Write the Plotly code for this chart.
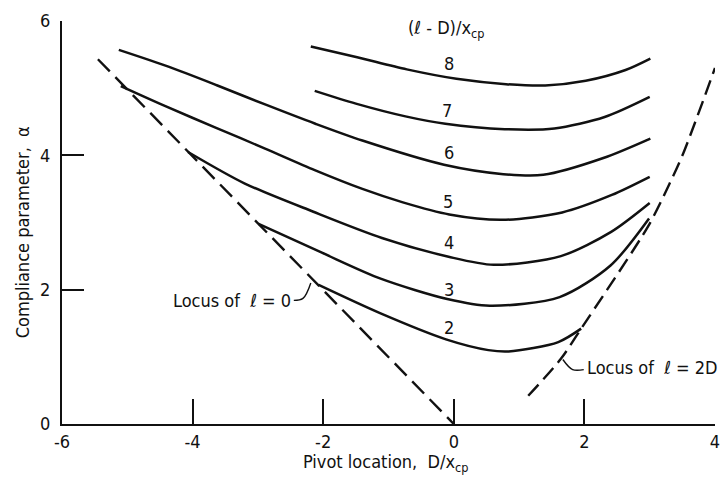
import plotly.graph_objects as go

# Constant-(l - D)/x_cp curves: pivot location D/x_cp vs compliance parameter alpha
d_2 = [-2.07, -1.13, -0.12, 0.53, 0.84, 1.60, 1.95]
a_2 = [2.07, 1.65, 1.26, 1.10, 1.08, 1.22, 1.42]

d_3 = [-2.99, -2.02, -1.11, -0.10, 0.55, 1.62, 2.40, 2.99]
a_3 = [2.98, 2.55, 2.16, 1.86, 1.76, 1.89, 2.36, 3.06]

d_4 = [-4.07, -3.20, -2.15, -1.10, -0.08, 0.61, 1.64, 2.41, 3.0]
a_4 = [4.05, 3.58, 3.16, 2.77, 2.49, 2.37, 2.50, 2.86, 3.29]

d_5 = [-5.10, -4.39, -3.64, -2.89, -2.13, -1.40, -0.78, -0.07, 0.74, 1.66, 2.42, 3.0]
a_5 = [5.03, 4.72, 4.41, 4.10, 3.78, 3.50, 3.30, 3.12, 3.04, 3.15, 3.41, 3.68]

d_6 = [-5.13, -4.37, -3.62, -2.87, -2.12, -1.40, -0.15, 0.76, 1.37, 2.29, 3.01]
a_6 = [5.57, 5.32, 5.04, 4.75, 4.47, 4.22, 3.86, 3.72, 3.71, 3.96, 4.25]

d_7 = [-2.13, -1.50, -0.74, -0.13, 0.78, 1.54, 2.31, 3.0]
a_7 = [4.96, 4.77, 4.58, 4.47, 4.39, 4.40, 4.57, 4.87]

d_8 = [-2.19, -1.48, -0.72, 0.04, 0.80, 1.40, 2.02, 2.63, 3.01]
a_8 = [5.62, 5.46, 5.28, 5.14, 5.06, 5.04, 5.11, 5.27, 5.44]

curve_names = ["2", "3", "4", "5", "6", "7", "8"]
curve_d = [d_2, d_3, d_4, d_5, d_6, d_7, d_8]
curve_a = [a_2, a_3, a_4, a_5, a_6, a_7, a_8]

# Curve label anchor points
label_d = [-0.08, -0.08, -0.08, -0.09, -0.07, -0.10, -0.08]
label_a = [1.43, 2.01, 2.70, 3.32, 4.04, 4.67, 5.37]

# Locus of l = 0
locus0_d = [-5.45, 0.0]
locus0_a = [5.43, 0.0]

# Locus of l = 2D
locus2d_d = [1.14, 1.64, 1.95, 2.98, 3.30, 3.51, 4.0]
locus2d_a = [0.42, 0.97, 1.42, 2.95, 3.57, 4.02, 5.30]

# Leader lines from the locus captions
lead0_d = [-2.45, -2.31, -2.19]
lead0_a = [1.84, 1.87, 2.10]
lead2d_d = [1.99, 1.82, 1.67]
lead2d_a = [0.81, 0.81, 0.96]

x_ticks = [-6, -4, -2, 0, 2, 4]
y_ticks = [0, 2, 4, 6]

FONT = "Liberation Sans Narrow, DejaVu Sans Condensed, Arial Narrow, sans-serif"
INK = "#111111"

fig = go.Figure()

for name, dd, aa in zip(curve_names, curve_d, curve_a):
    fig.add_trace(go.Scatter(
        x=dd, y=aa, mode="lines", name=name,
        line=dict(color=INK, width=2.5, shape="spline", smoothing=0.8),
        showlegend=False, hoverinfo="skip",
    ))

fig.add_trace(go.Scatter(
    x=locus0_d, y=locus0_a, mode="lines",
    line=dict(color=INK, width=2.4, dash="17px,8px"),
    showlegend=False, hoverinfo="skip",
))
fig.add_trace(go.Scatter(
    x=locus2d_d, y=locus2d_a, mode="lines",
    line=dict(color=INK, width=2.4, dash="15px,7px", shape="spline", smoothing=0.8),
    showlegend=False, hoverinfo="skip",
))
for ld, la in [(lead0_d, lead0_a), (lead2d_d, lead2d_a)]:
    fig.add_trace(go.Scatter(
        x=ld, y=la, mode="lines",
        line=dict(color=INK, width=1.4, shape="spline"),
        showlegend=False, hoverinfo="skip",
    ))

annotations = []
for name, xd, ya in zip(curve_names, label_d, label_a):
    annotations.append(dict(
        x=xd, y=ya, xref="x", yref="y", text=name, showarrow=False,
        font=dict(family=FONT, size=18, color=INK),
        xanchor="center", yanchor="middle",
    ))

annotations += [
    dict(x=-0.73, y=5.88, xref="x", yref="y",
         text="(ℓ - D)/x<sub>cp</sub>", showarrow=False,
         font=dict(family=FONT, size=18, color=INK),
         xanchor="left", yanchor="middle"),
    dict(x=-2.47, y=1.84, xref="x", yref="y",
         text="Locus of  ℓ = 0", showarrow=False,
         font=dict(family=FONT, size=18, color=INK),
         xanchor="right", yanchor="middle"),
    dict(x=2.01, y=0.84, xref="x", yref="y",
         text="Locus of  ℓ = 2D", showarrow=False,
         font=dict(family=FONT, size=18, color=INK),
         xanchor="left", yanchor="middle"),
    dict(x=0.495, y=-0.098, xref="paper", yref="paper",
         text="Pivot location,  D/x<sub>cp</sub>", showarrow=False,
         font=dict(family=FONT, size=18, color=INK),
         xanchor="center", yanchor="middle"),
    dict(x=-0.061, y=0.476, xref="paper", yref="paper",
         text="Compliance parameter,  α", showarrow=False, textangle=-90,
         font=dict(family=FONT, size=18, color=INK),
         xanchor="center", yanchor="middle"),
]

fig.update_layout(
    width=726, height=481,
    margin=dict(l=62, r=6, t=21, b=57),
    paper_bgcolor="white", plot_bgcolor="white",
    annotations=annotations,
    showlegend=False,
)
fig.update_xaxes(
    range=[-6, 4], tickvals=x_ticks, ticktext=[str(v) for v in x_ticks],
    showline=True, linecolor=INK, linewidth=2, mirror=False,
    ticks="inside", ticklen=25, tickwidth=2, tickcolor=INK,
    showgrid=False, zeroline=False,
    tickfont=dict(family=FONT, size=18, color=INK),
)
fig.update_yaxes(
    range=[0, 6], tickvals=y_ticks, ticktext=[str(v) for v in y_ticks],
    showline=True, linecolor=INK, linewidth=2, mirror=False,
    ticks="inside", ticklen=22, tickwidth=2, tickcolor=INK,
    showgrid=False, zeroline=False, ticklabelstandoff=6,
    tickfont=dict(family=FONT, size=18, color=INK),
)

fig.write_html("out.html")
